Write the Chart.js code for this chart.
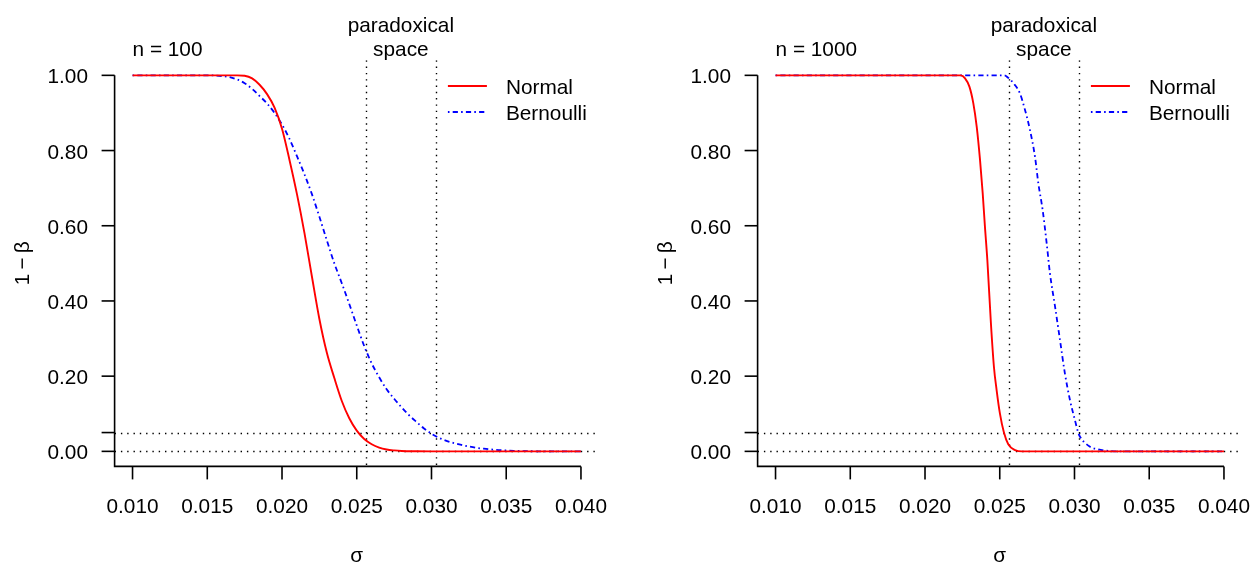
<!DOCTYPE html>
<html><head><meta charset="utf-8">
<script src="https://cdn.jsdelivr.net/npm/chart.js@4/dist/chart.umd.min.js"></script>
<style>
html,body{margin:0;padding:0;background:#fff;}
#wrap{position:relative;width:1250px;height:565px;overflow:hidden;background:#fff;}
canvas{position:absolute;top:0;}
</style></head><body>
<div id="wrap">
<canvas id="c1" width="625" height="565" style="left:0px"></canvas>
<canvas id="c2" width="625" height="565" style="left:625px"></canvas>
</div>
<script>
// ---- tick labels / reference values ----
const xTicks = [0.010, 0.015, 0.020, 0.025, 0.030, 0.035, 0.040];
const yTicks = [0.00, 0.20, 0.40, 0.60, 0.80, 1.00];
const paradoxBounds = [0.0256, 0.0303];
const alphaLevel = 0.05;
const seriesNames = ['Normal', 'Bernoulli'];
const panelTitles = ['n = 100', 'n = 1000'];

// ---- n = 100 ----
const sigmaNormal100 = [0.010, 0.0170, 0.0175, 0.0180, 0.0185, 0.0190, 0.0195, 0.0200, 0.0205, 0.0210, 0.0215, 0.0220, 0.0225, 0.0230, 0.0235, 0.0240, 0.0245, 0.0250, 0.0255, 0.0260, 0.0265, 0.0270, 0.0275, 0.0280, 0.0290, 0.0300, 0.040];
const powerNormal100 = [1.000, 1.000, 0.999, 0.992, 0.975, 0.950, 0.914, 0.858, 0.775, 0.684, 0.581, 0.465, 0.352, 0.262, 0.195, 0.134, 0.088, 0.055, 0.033, 0.019, 0.010, 0.005, 0.0025, 0.001, 0.0002, 0.000, 0.000];
const sigmaBernoulli100 = [0.010, 0.0150, 0.0155, 0.0160, 0.0165, 0.0170, 0.0175, 0.0180, 0.0185, 0.0190, 0.0195, 0.0200, 0.0205, 0.0210, 0.0215, 0.0220, 0.0225, 0.0230, 0.0235, 0.0240, 0.0245, 0.0250, 0.0255, 0.0260, 0.0265, 0.0270, 0.0275, 0.0280, 0.0285, 0.0290, 0.0295, 0.0300, 0.0305, 0.0310, 0.0315, 0.0320, 0.0325, 0.0330, 0.0335, 0.0340, 0.0345, 0.0350, 0.0355, 0.0360, 0.0370, 0.0380, 0.040];
const powerBernoulli100 = [1.000, 1.000, 0.9995, 0.998, 0.995, 0.989, 0.979, 0.964, 0.945, 0.925, 0.900, 0.869, 0.831, 0.785, 0.737, 0.684, 0.624, 0.561, 0.500, 0.447, 0.392, 0.335, 0.280, 0.234, 0.197, 0.165, 0.140, 0.117, 0.096, 0.078, 0.061, 0.047, 0.036, 0.028, 0.022, 0.017, 0.013, 0.0095, 0.007, 0.005, 0.0035, 0.0023, 0.0014, 0.0008, 0.0002, 0.000, 0.000];

// ---- n = 1000 ----
const sigmaNormal1000 = [0.010, 0.0224, 0.02268, 0.02297, 0.02323, 0.02346, 0.02368, 0.02386, 0.02401, 0.02417, 0.02441, 0.02461, 0.02479, 0.02501, 0.02528, 0.02557, 0.02602, 0.0265, 0.040];
const powerNormal1000 = [1.000, 1.000, 0.992, 0.970, 0.926, 0.863, 0.775, 0.686, 0.597, 0.509, 0.340, 0.225, 0.163, 0.101, 0.050, 0.019, 0.0035, 0.000, 0.000];
const sigmaBernoulli1000 = [0.010, 0.0253, 0.02546, 0.02602, 0.02635, 0.02669, 0.02702, 0.02736, 0.02758, 0.02787, 0.02814, 0.02836, 0.0287, 0.02903, 0.02936, 0.0297, 0.03003, 0.03025, 0.03037, 0.03104, 0.03159, 0.03215, 0.0328, 0.040];
const powerBernoulli1000 = [1.000, 1.000, 0.997, 0.974, 0.952, 0.908, 0.855, 0.783, 0.713, 0.642, 0.553, 0.473, 0.385, 0.296, 0.207, 0.136, 0.083, 0.050, 0.039, 0.0123, 0.0053, 0.0016, 0.000, 0.000];

const FONT = '20.8px "Liberation Sans", Arial, Helvetica, sans-serif';
const RED = '#FF0000', BLUE = '#0000FF';
const BLUE_DASH = [1.6, 3.2, 5.2, 3.2];

function pts(xs, ys) { return xs.map((x, i) => ({x: x, y: ys[i]})); }

const rPlot = {
  id: 'rPlot',
  beforeDatasetsDraw(chart) {
    const ctx = chart.ctx, a = chart.chartArea, xs = chart.scales.x, ys = chart.scales.y;
    ctx.save();
    ctx.beginPath(); ctx.rect(a.left, a.top, a.right - a.left, a.bottom - a.top); ctx.clip();
    ctx.strokeStyle = '#000'; ctx.lineWidth = 1.4; ctx.setLineDash([1.4, 4.9]);
    [0, alphaLevel].forEach(v => {
      const y = Math.round(ys.getPixelForValue(v)) + 0.5;
      ctx.beginPath(); ctx.moveTo(a.left, y); ctx.lineTo(a.right, y); ctx.stroke();
    });
    paradoxBounds.forEach(v => {
      const x = Math.round(xs.getPixelForValue(v)) + 0.5;
      ctx.beginPath(); ctx.moveTo(x, a.top); ctx.lineTo(x, a.bottom); ctx.stroke();
    });
    ctx.restore();
  },
  afterDatasetsDraw(chart, args, opts) {
    const ctx = chart.ctx, a = chart.chartArea, xs = chart.scales.x, ys = chart.scales.y;
    ctx.save();
    ctx.strokeStyle = '#000'; ctx.fillStyle = '#000'; ctx.lineWidth = 1.6; ctx.setLineDash([]);
    ctx.font = FONT;
    const L = a.left, B = a.bottom;
    const yTop = ys.getPixelForValue(yTicks[yTicks.length - 1]);
    const xRight = xs.getPixelForValue(xTicks[xTicks.length - 1]);
    ctx.beginPath();
    ctx.moveTo(L, yTop); ctx.lineTo(L, B); ctx.lineTo(xRight, B);
    ctx.stroke();
    ctx.textAlign = 'right'; ctx.textBaseline = 'alphabetic';
    yTicks.forEach(v => {
      const y = ys.getPixelForValue(v);
      ctx.beginPath(); ctx.moveTo(L, y); ctx.lineTo(L - 13, y); ctx.stroke();
      ctx.fillText(v.toFixed(2), L - 26.6, y + 8);
    });
    { const y = ys.getPixelForValue(alphaLevel);
      ctx.beginPath(); ctx.moveTo(L, y); ctx.lineTo(L - 13, y); ctx.stroke(); }
    ctx.textAlign = 'center';
    xTicks.forEach(v => {
      const x = xs.getPixelForValue(v);
      ctx.beginPath(); ctx.moveTo(x, B); ctx.lineTo(x, B + 13); ctx.stroke();
      ctx.fillText(v.toFixed(3), x, 513.3);
    });
    ctx.fillText('\u03C3', (a.left + a.right) / 2, 562);
    ctx.save();
    ctx.translate(L - 85.5, (a.top + a.bottom) / 2);
    ctx.rotate(-Math.PI / 2);
    ctx.textAlign = 'center';
    ctx.fillText('1\u2009\u2212\u2009\u03B2', 0, 0);
    ctx.restore();
    ctx.textAlign = 'left';
    ctx.fillText(opts.title, xs.getPixelForValue(xTicks[0]), 55.5);
    ctx.textAlign = 'center';
    const mid = (xs.getPixelForValue(paradoxBounds[0]) + xs.getPixelForValue(paradoxBounds[1])) / 2;
    ctx.fillText('paradoxical', mid, 31.5);
    ctx.fillText('space', mid, 55.5);
    const lx = a.right - 151, tx = a.right - 93;
    const rowsY = [86, 112];
    ctx.textAlign = 'left';
    chart.data.datasets.forEach((ds, i) => {
      ctx.strokeStyle = ds.borderColor; ctx.lineWidth = 1.8; ctx.setLineDash(ds.borderDash || []);
      ctx.beginPath(); ctx.moveTo(lx, rowsY[i]); ctx.lineTo(lx + 39, rowsY[i]); ctx.stroke();
      ctx.fillText(ds.label, tx, rowsY[i] + 8);
    });
    ctx.restore();
  }
};

function makePanel(id, title, padLeft, padRight, sN, pN, sB, pB) {
  return new Chart(document.getElementById(id), {
    type: 'line',
    data: {
      datasets: [
        {label: seriesNames[0], data: pts(sN, pN), borderColor: RED, borderWidth: 1.9, pointRadius: 0, cubicInterpolationMode: 'monotone', fill: false},
        {label: seriesNames[1], data: pts(sB, pB), borderColor: BLUE, borderWidth: 1.8, borderDash: BLUE_DASH, pointRadius: 0, cubicInterpolationMode: 'monotone', fill: false}
      ]
    },
    options: {
      responsive: false, animation: false, devicePixelRatio: 1,
      layout: {padding: {left: padLeft, right: padRight, top: 60.3, bottom: 98.6}},
      plugins: {legend: {display: false}, tooltip: {enabled: false}, title: {display: false}, rPlot: {title: title}},
      scales: {
        x: {type: 'linear', min: 0.0088, max: 0.0412, display: false},
        y: {type: 'linear', min: -0.04, max: 1.04, display: false}
      }
    },
    plugins: [rPlot]
  });
}

makePanel('c1', panelTitles[0], 114.6, 26.1, sigmaNormal100, powerNormal100, sigmaBernoulli100, powerBernoulli100);
makePanel('c2', panelTitles[1], 132.6, 8.1, sigmaNormal1000, powerNormal1000, sigmaBernoulli1000, powerBernoulli1000);
</script>
</body></html>
